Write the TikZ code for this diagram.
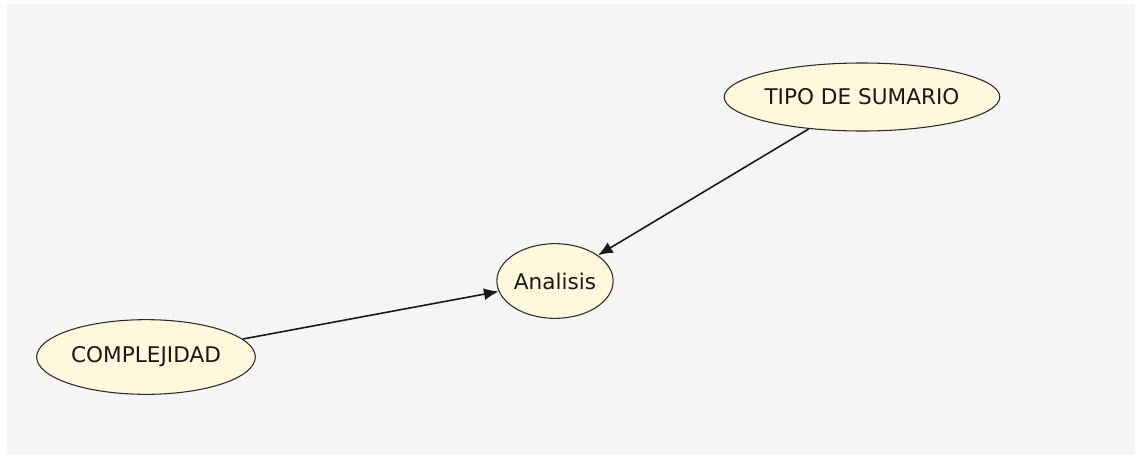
\documentclass[tikz,border=0pt]{standalone}
\usepackage{fontspec}
\setmainfont{DejaVu Sans}
\usetikzlibrary{shapes.geometric, arrows.meta}
\definecolor{fondo}{HTML}{F5F5F5}
\definecolor{crema}{HTML}{FFF8DC}
\definecolor{borde}{HTML}{2A2A2A}
\tikzset{
  concepto/.style={ellipse, draw=borde, fill=crema, line width=0.8pt,
    inner sep=0pt, font=\fontsize{16.2}{19}\selectfont, text=black!90},
  enlace/.style={-{Latex[length=11pt, width=9pt]}, line width=1.2pt, black!90}
}
\begin{document}
\begin{tikzpicture}[x=0.75pt, y=-0.75pt]
            \useasboundingbox (0,0) rectangle (1140,461);
            \fill[white] (0,0) rectangle (1140,461);
            \fill[fondo] (7,4) rectangle (1135,455);
            \node[concepto, minimum width=206pt, minimum height=51pt] (tipo) at (862,97) {TIPO DE SUMARIO};
            \node[concepto, minimum width=86pt, minimum height=56pt] (analisis) at (555,281) {Analisis};
            \node[concepto, minimum width=164pt, minimum height=56pt] (complejidad) at (146,357) {COMPLEJIDAD};
            \draw[enlace] (tipo) -- (analisis);
            \draw[enlace] (complejidad) -- (analisis);
        \end{tikzpicture}
\end{document}
